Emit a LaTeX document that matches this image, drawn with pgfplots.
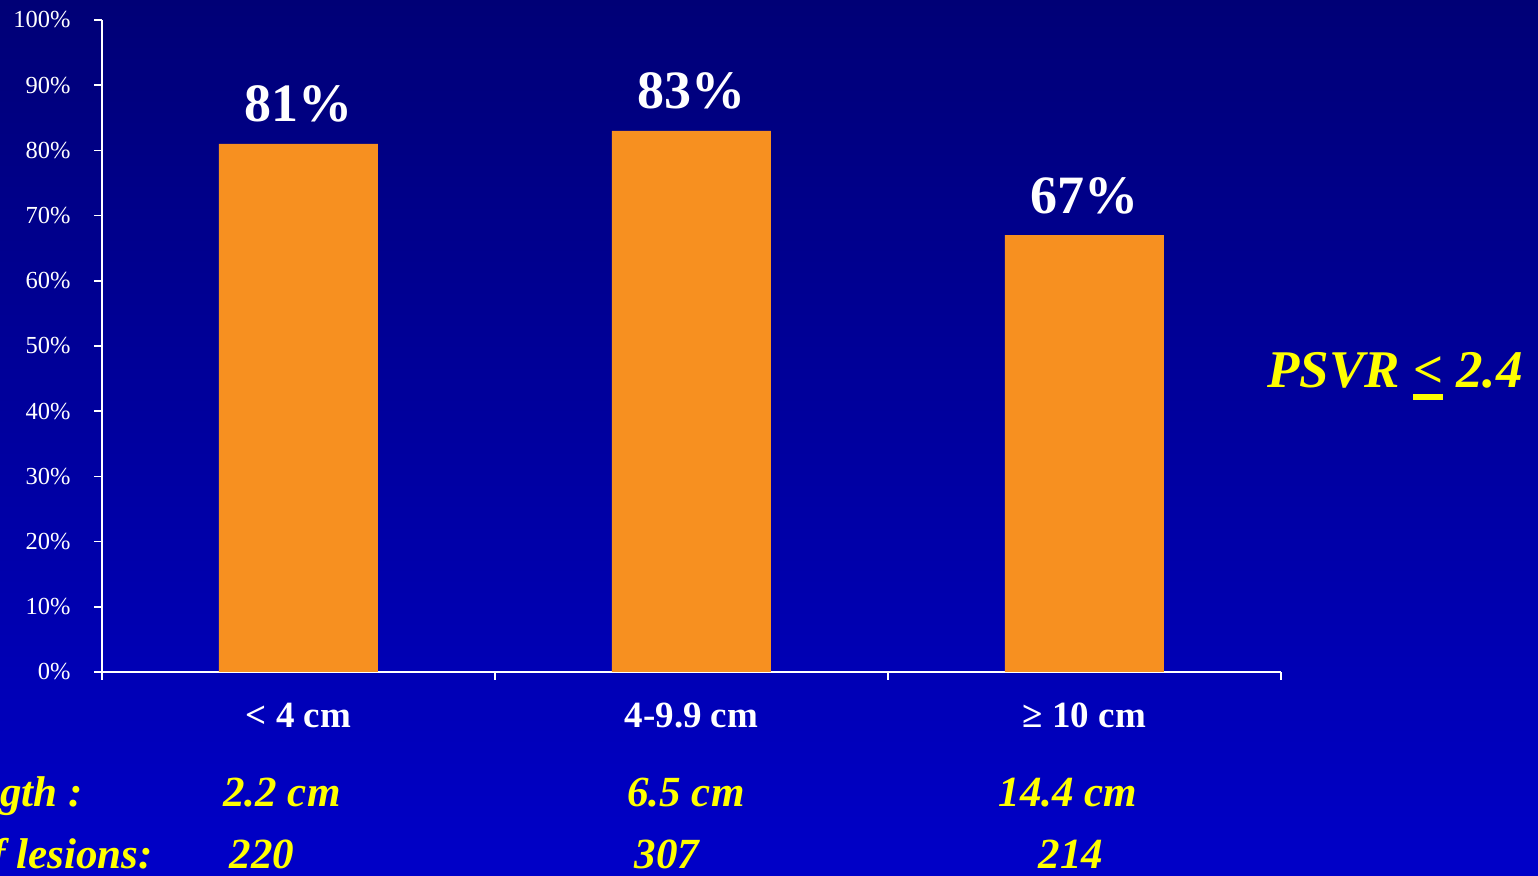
\documentclass[border=0pt]{standalone}
\usepackage{fontspec}
\setmainfont{Liberation Serif}
\usepackage{pgfplots}
\pgfplotsset{compat=1.18}
\definecolor{bgtop}{RGB}{0,0,118}
\definecolor{bgbot}{RGB}{0,0,200}
\definecolor{barorange}{RGB}{247,144,32}
\definecolor{ylw}{RGB}{255,255,0}
\newcommand\ulsym[1]{\setbox0=\hbox{#1}\rlap{\rule[-0.22em]{\wd0}{0.11em}}\box0\relax}
\begin{document}
\begin{tikzpicture}
\path[use as bounding box] (0,0) rectangle (1538pt,875pt);
\clip (0,0) rectangle (1538pt,875pt);
\shade[top color=bgtop, bottom color=bgbot] (0,0) rectangle (1538pt,875pt);
\begin{axis}[
  at={(102pt,203pt)}, anchor=south west,
  scale only axis, width=1179pt, height=652pt,
  xmin=-0.5, xmax=2.5, ymin=0, ymax=100,
  axis x line=bottom, axis y line=left,
  axis line style={white, line width=1.6pt, -},
  x axis line style={-}, y axis line style={-},
  tick align=outside, major tick length=8pt,
  tick style={white, line width=1.6pt},
  ytick={0,10,...,100},
  yticklabel={\pgfmathprintnumber{\tick}\%},
  /pgf/number format/assume math mode=true,
  yticklabel style={font=\fontsize{24.5}{28}\selectfont, text=white, xshift=-20pt},
  xtick={0,1,2},
  xticklabels={{< 4 cm},{4-9.9 cm},{≥ 10 cm}},
  major x tick style={draw=none},
  xticklabel style={font=\fontsize{37}{42}\selectfont\bfseries, text=white, anchor=base, yshift=-48pt},
  extra x ticks={-0.5,0.5,1.5,2.5},
  extra x tick labels={},
  extra x tick style={major x tick style={draw=white}},
  ybar, bar width=159pt,
  clip=false,
]
\addplot[fill=barorange, draw=none,
  nodes near coords={\pgfmathprintnumber{\pgfplotspointmeta}\%},
  nodes near coords style={font=\fontsize{54}{60}\selectfont\bfseries, text=white, anchor=base, inner sep=0pt, yshift=22pt}]
  coordinates {(0,81) (1,83) (2,67)};
\end{axis}
\begin{scope}[every node/.style={text=ylw, inner sep=0pt, font=\fontsize{43}{50}\selectfont\bfseries\itshape}]
\node[anchor=base east] at (83pt,69pt) {Mean length :};
\node[anchor=base] at (282pt,69pt) {2.2 cm};
\node[anchor=base] at (686pt,69pt) {6.5 cm};
\node[anchor=base] at (1068pt,69pt) {14.4 cm};
\node[anchor=base east] at (153pt,7pt) {Number of lesions:};
\node[anchor=base] at (262pt,7pt) {220};
\node[anchor=base] at (667pt,7pt) {307};
\node[anchor=base] at (1071pt,7pt) {214};
\node[anchor=base west, font=\fontsize{53}{60}\selectfont\bfseries\itshape] at (1267pt,487pt) {PSVR \ulsym{<} 2.4};
\end{scope}
\end{tikzpicture}
\end{document}
